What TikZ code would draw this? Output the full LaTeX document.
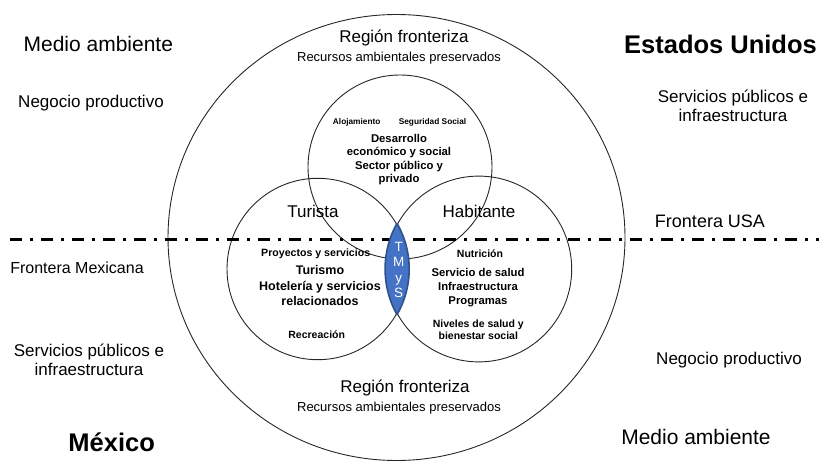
\documentclass[tikz,border=0pt]{standalone}
\usepackage{fontspec}
\setmainfont{Liberation Sans}
\usetikzlibrary{shapes.geometric}
\definecolor{lensblue}{HTML}{4472C4}
\definecolor{lensedge}{HTML}{2F528F}
\tikzset{
   ring/.style={ circle, draw=black!85, line width=0.9pt, inner sep=0pt},
   outer ring/.style={ ellipse, draw=black!85, line width=0.9pt, inner sep=0pt},
   border line/.style={ line width=3.3pt, dash pattern=on 12pt off 8pt on 3pt off 8pt},
   country/.style={ inner sep=0pt, font=\bfseries\fontsize{25.5}{28}\selectfont},
   big label/.style={ inner sep=0pt, font=\fontsize{21}{24}\selectfont},
   side label/.style={ inner sep=0pt, align=center, font=\fontsize{17}{19}\selectfont},
   region label/.style={ inner sep=0pt, font=\fontsize{17}{19}\selectfont},
   resource label/.style={ inner sep=0pt, font=\fontsize{13}{15}\selectfont},
   tiny bold/.style={ inner sep=0pt, font=\bfseries\fontsize{8.3}{10}\selectfont},
   small bold/.style={ inner sep=0pt, align=center, font=\bfseries\fontsize{10.5}{12.3}\selectfont},
   mid bold/.style={ inner sep=0pt, align=center, font=\bfseries\fontsize{11.3}{13.8}\selectfont}
}

\begin{document}
\begin{tikzpicture}[x=1pt,y=-1pt]
  \useasboundingbox (0,0) rectangle (819,462);

  %% Circles
  \node[outer ring, minimum width=457pt, minimum height=446pt] at (396.5,237.5) (frontier) {};
  \node[ring, minimum size=184pt]   at (400,167)   (society)  {};
  \node[ring, minimum size=181.4pt] at (317.7,269) (tourist)  {};
  \node[ring, minimum size=185.8pt] at (478.8,269) (resident) {};

  %% Border line
  \coordinate (line west) at (10,239.5);
  \coordinate (line east) at (819,239.5);
  \draw[border line] (line west) -- (line east);

  %% Lens
  \begin{scope}
    \clip (tourist.center) circle (91.5pt);
    \fill[lensblue] (resident.center) circle (93.7pt);
    \draw[lensedge, line width=1.6pt] (resident.center) circle (93.7pt);
  \end{scope}
  \begin{scope}
    \clip (resident.center) circle (93.7pt);
    \draw[lensedge, line width=1.6pt] (tourist.center) circle (91.5pt);
  \end{scope}
  \node[inner sep=0pt, align=center, text=white, font=\fontsize{13.5}{15.5}\selectfont] at (398.7,270) (tmys) {T\\M\\y\\S};

  %% Outside labels
  \node[big label]  at (98.3,44)   (env us)      {Medio ambiente};
  \node[side label] at (91,103.3)  (business mx) {Negocio productivo};
  \node[country]    at (720.5,44.3) (usa)        {Estados Unidos};
  \node[side label] at (733,105.5) (services us) {Servicios públicos e\\infraestructura};
  \node[side label, font=\fontsize{18}{20}\selectfont] at (710,221) (border usa) {Frontera USA};
  \node[side label, font=\fontsize{16}{18}\selectfont] at (77,268)  (border mx)  {Frontera Mexicana};
  \node[side label] at (89,360.3)  (services mx) {Servicios públicos e\\infraestructura};
  \node[side label] at (729,360)   (business us) {Negocio productivo};
  \node[country]    at (111.7,442.3) (mexico)    {México};
  \node[big label]  at (696,437)   (env mx)      {Medio ambiente};

  %% Region labels
  \node[region label]   at (404,38)  (region top)      {Región fronteriza};
  \node[resource label] at (399,58)  (resources top)   {Recursos ambientales preservados};
  \node[region label]   at (405,388) (region bottom)   {Región fronteriza};
  \node[resource label] at (399,408) (resources bottom){Recursos ambientales preservados};

  %% Top circle
  \node[tiny bold] at (356.7,122.7) (lodging)  {Alojamiento};
  \node[tiny bold] at (432.5,122.7) (security) {Seguridad Social};
  \node[mid bold, font=\bfseries\fontsize{11.3}{13.6}\selectfont] at (399,159.5) (development) {Desarrollo\\económico y social\\Sector público y\\privado};

  %% Left circle
  \node[region label] at (313,211.7) (tourist label) {Turista};
  \node[small bold, font=\bfseries\fontsize{10.6}{12}\selectfont] at (315.7,254) (projects) {Proyectos y servicios};
  \node[mid bold, font=\bfseries\fontsize{12.5}{15.5}\selectfont] at (320,285.7) (tourism) {Turismo\\Hotelería y servicios\\relacionados};
  \node[small bold] at (316.7,335) (recreation) {Recreación};

  %% Right circle
  \node[region label] at (479,211.7) (resident label) {Habitante};
  \node[small bold] at (480,253.3) (nutrition) {Nutrición};
  \node[mid bold, font=\bfseries\fontsize{11.3}{14.2}\selectfont] at (478,287.8) (health) {Servicio de salud\\Infraestructura\\Programas};
  \node[small bold] at (478.3,330) (wellbeing) {Niveles de salud y\\bienestar social};

\end{tikzpicture}
\end{document}
